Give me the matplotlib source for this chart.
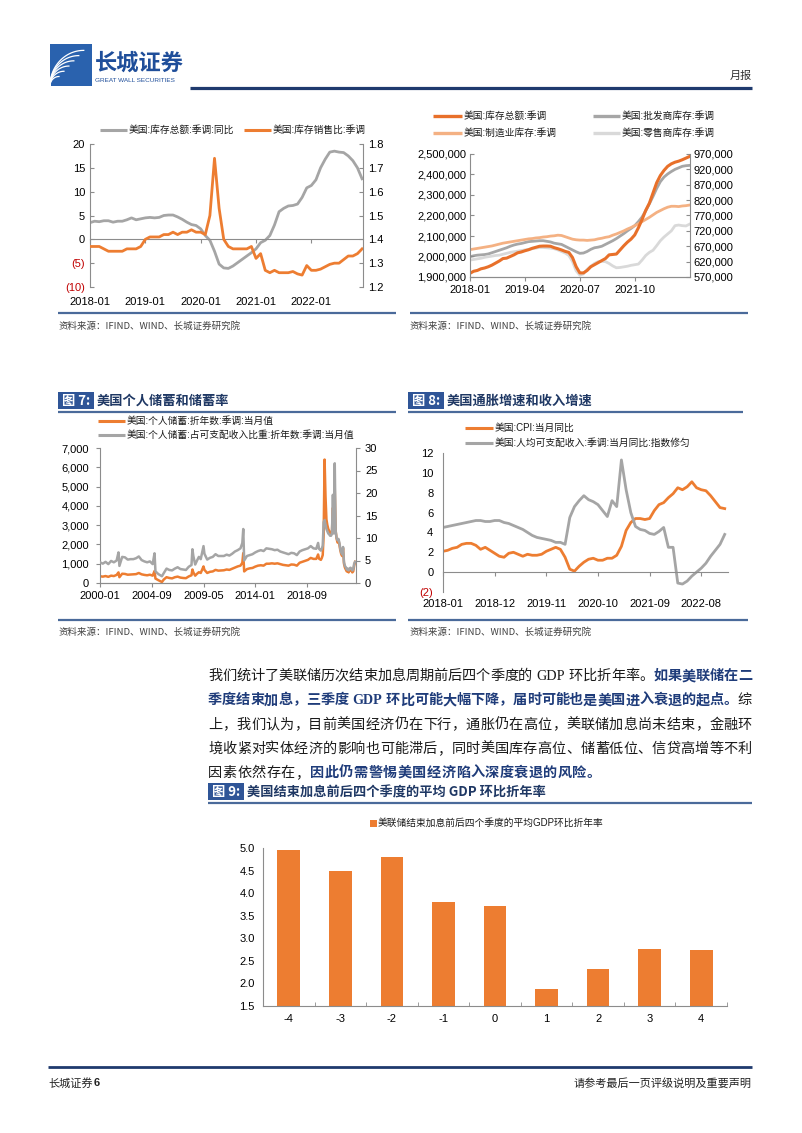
import numpy as np
import pandas as pd
import matplotlib
matplotlib.use('Agg')
import matplotlib.pyplot as plt
from matplotlib.lines import Line2D
from matplotlib.patches import Rectangle

plt.rcParams['font.family'] = ['Liberation Sans', 'Noto Sans CJK SC', 'DejaVu Sans']
plt.rcParams['axes.unicode_minus'] = False

# ======================= DATA =======================
# Chart A: inventory YoY and inventory/sales ratio, monthly 2018-01 .. 2022-12
a_start = '2018-01'
a_ticks = ['2018-01', '2019-01', '2020-01', '2021-01', '2022-01']
inv_yoy = [3.5, 3.8, 3.7, 3.9, 3.9, 3.6, 3.8, 3.8, 4.1, 4.5,
           4.1, 4.3, 4.5, 4.6, 4.5, 4.6, 5.0, 5.1, 5.1, 4.7,
           4.2, 3.6, 3.1, 2.9, 2.2, 0.8, -0.2, -2.5, -5.2, -6.0,
           -6.1, -5.6, -4.9, -4.2, -3.5, -2.8, -2.0, -0.7, -0.2, 0.8,
           3.0, 5.8, 6.5, 7.0, 7.1, 7.4, 8.8, 10.8, 11.3, 12.5,
           15.0, 16.8, 18.3, 18.5, 18.3, 18.2, 17.5, 16.5, 15.0, 12.7]
inv_ratio = [1.37, 1.37, 1.37, 1.36, 1.35, 1.35, 1.35, 1.35, 1.36, 1.36,
             1.36, 1.37, 1.40, 1.41, 1.41, 1.41, 1.42, 1.42, 1.43, 1.42,
             1.43, 1.43, 1.44, 1.43, 1.43, 1.42, 1.50, 1.74, 1.53, 1.40,
             1.37, 1.36, 1.36, 1.36, 1.36, 1.37, 1.32, 1.34, 1.27, 1.26,
             1.27, 1.26, 1.26, 1.26, 1.265, 1.255, 1.25, 1.29, 1.27, 1.27,
             1.275, 1.285, 1.295, 1.30, 1.30, 1.315, 1.33, 1.33, 1.34, 1.36]
a_left_ticks = [-10, -5, 0, 5, 10, 15, 20]
a_left_labels = ['(10)', '(5)', '0', '5', '10', '15', '20']
a_right_ticks = [1.2, 1.3, 1.4, 1.5, 1.6, 1.7, 1.8]
a_right_labels = ['1.2', '1.3', '1.4', '1.5', '1.6', '1.7', '1.8']

# Chart B: inventory levels, monthly 2018-01 .. 2023-01
b_start = '2018-01'
b_ticks = ['2018-01', '2019-04', '2020-07', '2021-10']
inv_total = [1918, 1928, 1932, 1940, 1944, 1950, 1958, 1968, 1978, 1990,
             1992, 2000, 2008, 2018, 2022, 2028, 2033, 2040, 2045, 2050,
             2051, 2051, 2050, 2043, 2038, 2032, 2025, 2020, 1995, 1950,
             1920, 1920, 1932, 1950, 1960, 1970, 1980, 1990, 2008, 2010,
             2012, 2032, 2052, 2070, 2085, 2105, 2140, 2180, 2225, 2260,
             2310, 2360, 2395, 2420, 2440, 2452, 2460, 2465, 2472, 2480,
             2488]  # thousand
inv_wholesale = [636, 639, 641, 642, 643, 645, 649, 653, 657, 661,
                 665, 670, 674, 677, 679, 682, 685, 686, 687, 688,
                 688, 686, 684, 680, 678, 676, 670, 664, 658, 652,
                 647, 648, 653, 660, 665, 667, 670, 676, 682, 688,
                 695, 703, 711, 720, 728, 737, 750, 765, 785, 808,
                 832, 858, 880, 895, 905, 913, 920, 925, 930, 932,
                 933]
inv_mfg = [659, 661, 663, 665, 667, 669, 671, 674, 677, 680,
           682, 684, 686, 688, 690, 692, 694, 695, 697, 698,
           700, 701, 703, 704, 706, 705, 701, 697, 693, 691,
           690, 690, 689, 690, 691, 694, 696, 699, 701, 706,
           710, 715, 720, 726, 731, 737, 743, 750, 757, 764,
           772, 780, 786, 792, 797, 800, 800, 799, 801, 802,
           804]
inv_retail = [625, 627, 629, 631, 634, 636, 638, 640, 641, 644,
              647, 650, 652, 654, 656, 658, 660, 662, 664, 666,
              666, 665, 664, 662, 658, 653, 648, 640, 620, 590,
              576, 580, 595, 605, 614, 620, 621, 620, 614, 606,
              600, 601, 603, 605, 608, 610, 612, 625, 640, 650,
              657, 672, 688, 700, 710, 720, 737, 739, 737, 736,
              742]
b_left_ticks = [1900000, 2000000, 2100000, 2200000, 2300000, 2400000, 2500000]
b_right_ticks = [570000, 620000, 670000, 720000, 770000, 820000, 870000, 920000, 970000]

# Chart 7: personal saving (bn, annualised) and saving rate (%)
sav_dates = ['2000-01', '2000-04', '2000-07', '2000-10',
             '2001-01', '2001-04', '2001-07', '2001-09', '2001-10',
             '2002-01', '2002-04', '2002-07', '2002-10',
             '2003-01', '2003-04', '2003-07', '2003-10',
             '2004-01', '2004-04', '2004-07', '2004-10', '2004-12',
             '2005-01', '2005-04', '2005-08', '2005-10',
             '2006-01', '2006-04', '2006-07', '2006-10',
             '2007-01', '2007-04', '2007-07', '2007-10',
             '2008-01', '2008-04', '2008-05', '2008-06', '2008-08', '2008-10', '2008-12',
             '2009-02', '2009-05', '2009-06', '2009-09', '2009-12',
             '2010-03', '2010-06', '2010-09', '2010-12',
             '2011-03', '2011-06', '2011-09', '2011-12',
             '2012-03', '2012-06', '2012-09', '2012-11', '2012-12',
             '2013-01', '2013-04', '2013-07', '2013-10',
             '2014-01', '2014-04', '2014-07', '2014-10',
             '2015-01', '2015-04', '2015-07', '2015-10',
             '2016-01', '2016-04', '2016-07', '2016-10',
             '2017-01', '2017-04', '2017-07', '2017-10',
             '2018-01', '2018-04', '2018-07', '2018-10',
             '2019-01', '2019-04', '2019-07', '2019-09', '2019-10', '2019-12',
             '2020-01', '2020-02', '2020-03', '2020-04', '2020-05', '2020-06',
             '2020-07', '2020-08', '2020-09', '2020-10', '2020-11', '2020-12',
             '2021-01', '2021-02', '2021-03', '2021-04', '2021-05', '2021-06',
             '2021-07', '2021-08', '2021-09', '2021-10', '2021-11', '2021-12',
             '2022-01', '2022-02', '2022-03', '2022-04', '2022-05', '2022-06',
             '2022-07', '2022-08', '2022-09', '2022-10', '2022-11', '2022-12',
             '2023-01']
sav_level = [350, 330, 360, 320,
             380, 360, 420, 550, 300,
             480, 470, 430, 440,
             450, 460, 520, 450,
             420, 400, 430, 380, 620,
             230, 150, 50, 180,
             300, 260, 240, 300,
             330, 280, 260, 250,
             340, 400, 700, 550, 380, 480, 560,
             520, 860, 680, 520, 580,
             600, 680, 640, 650,
             660, 700, 680, 740,
             800, 860, 900, 1050, 1550,
             600, 720, 760, 780,
             850, 900, 920, 900,
             1000, 1000, 1020, 1000,
             1020, 980, 940, 920,
             900, 960, 950, 900,
             1050, 1100, 1150, 1200,
             1300, 1250, 1250, 1480, 1260, 1200,
             1300, 1450, 2500, 6400, 4500, 3300,
             3000, 2800, 2700, 2600, 2500, 2700,
             3900, 2600, 4900, 2700, 2300, 2100,
             2200, 2000, 1700, 1500, 1400, 1800,
             1000, 800, 700, 600, 650, 550,
             650, 700, 650, 550, 600, 900,
             1100]
sav_rate = [4.6, 4.3, 4.7, 4.2,
            4.9, 4.6, 5.0, 6.8, 3.8,
            5.8, 5.7, 5.2, 5.3,
            5.3, 5.5, 5.9, 5.1,
            4.8, 4.6, 4.8, 4.2, 6.6,
            2.6, 2.0, 1.5, 2.2,
            3.2, 2.9, 2.8, 3.2,
            3.5, 3.1, 3.0, 2.9,
            3.6, 4.0, 7.5, 6.0, 4.1, 5.0, 5.8,
            5.3, 8.2, 6.5, 5.2, 5.6,
            5.8, 6.4, 6.0, 6.0,
            6.0, 6.3, 6.1, 6.5,
            7.0, 7.3, 7.7, 8.9, 12.0,
            5.0, 6.0, 6.2, 6.4,
            6.8, 7.1, 7.3, 7.1,
            7.7, 7.6, 7.5, 7.3,
            7.4, 7.0, 6.8, 6.6,
            6.4, 6.7, 6.6, 6.2,
            7.0, 7.3, 7.5, 7.7,
            8.2, 7.7, 7.6, 8.9, 7.6, 7.2,
            7.6, 8.3, 13.5, 14.0, 13.0, 12.0,
            11.5, 11.0, 10.8, 10.5, 10.5, 11.0,
            19.6, 11.0, 26.6, 11.5, 10.0, 9.5,
            9.8, 9.0, 7.6, 6.8, 6.4, 8.0,
            4.6, 3.8, 3.5, 3.0, 3.2, 2.8,
            3.2, 3.4, 3.2, 2.8, 3.0, 4.3,
            4.7]
c7_start = '2000-01'
c7_ticks = ['2000-01', '2004-09', '2009-05', '2014-01', '2018-09']
c7_left_ticks = [0, 1000, 2000, 3000, 4000, 5000, 6000, 7000]
c7_right_ticks = [0, 5, 10, 15, 20, 25, 30]

# Chart 8: CPI YoY and disposable income per capita YoY, monthly 2018-01 .. 2023-01
c8_start = '2018-01'
c8_ticks = ['2018-01', '2018-12', '2019-11', '2020-10', '2021-09', '2022-08']
cpi_yoy = [2.1, 2.2, 2.4, 2.5, 2.8, 2.9, 2.9, 2.7, 2.3, 2.5, 2.2, 1.9,
           1.6, 1.5, 1.9, 2.0, 1.8, 1.6, 1.8, 1.7, 1.7, 1.8, 2.1, 2.3,
           2.5, 2.3, 1.5, 0.3, 0.1, 0.6, 1.0, 1.3, 1.4, 1.2, 1.2, 1.4,
           1.4, 1.7, 2.6, 4.2, 5.0, 5.4, 5.4, 5.3, 5.4, 6.2, 6.8, 7.0,
           7.5, 7.9, 8.5, 8.3, 8.6, 9.1, 8.5, 8.3, 8.2, 7.7, 7.1, 6.5,
           6.4]
income_yoy = [4.5, 4.6, 4.7, 4.8, 4.9, 5.0, 5.1, 5.2, 5.2, 5.1,
              5.1, 5.2, 5.2, 5.0, 4.9, 4.7, 4.5, 4.3, 4.0, 3.7,
              3.5, 3.4, 3.3, 3.2, 3.0, 3.0, 2.8, 5.5, 6.6, 7.2,
              7.7, 7.3, 7.1, 6.8, 6.2, 5.6, 7.2, 6.6, 11.3, 8.3,
              6.0, 4.6, 4.3, 4.2, 3.9, 3.8, 4.1, 4.5, 2.5, 2.5,
              -1.1, -1.2, -0.9, -0.4, 0.0, 0.4, 0.9, 1.6, 2.2, 2.8,
              3.8]
c8_ticks_y = [-2, 0, 2, 4, 6, 8, 10, 12]
c8_labels_y = ['(2)', '0', '2', '4', '6', '8', '10', '12']

# Chart 9: average GDP QoQ annualised around end of Fed hiking cycles
quarters = ['-4', '-3', '-2', '-1', '0', '1', '2', '3', '4']
gdp_avg = [4.95, 4.48, 4.80, 3.80, 3.71, 1.87, 2.31, 2.76, 2.73]
c9_yticks = [1.5, 2.0, 2.5, 3.0, 3.5, 4.0, 4.5, 5.0]

# ======================= STYLE =======================
W, H = 802, 1133
ORANGE = '#ED7D31'
GRAY = '#A5A5A5'
SPINE = '#8C8C8C'
NAVY = '#1F3864'
BOXBLUE = '#2F5597'
LINEBLUE = '#4A6A9A'
REDNEG = '#C00000'
TXTBLUE = '#1F3C7A'
CJK = ['Noto Sans CJK SC', 'DejaVu Sans']

fig = plt.figure(figsize=(W / 100, H / 100), dpi=100)
fig.patch.set_facecolor('white')
R = fig.canvas.get_renderer()


def fx(x):
    return x / W


def fy(y):
    return 1 - y / H


def add_ax(x0, y0, x1, y1):
    return fig.add_axes([x0 / W, 1 - y1 / H, (x1 - x0) / W, (y1 - y0) / H])


def hline(x0, x1, y, color, lw):
    fig.add_artist(Line2D([fx(x0), fx(x1)], [fy(y), fy(y)], color=color, lw=lw,
                          transform=fig.transFigure, solid_capstyle='butt'))


def legend_item(x0, x1, y, color, lw, label, fs=7):
    hline(x0, x1, y, color, lw)
    fig.text(fx(x1 + 2), fy(y), label, fontsize=fs, va='center', ha='left', color='#1a1a1a')


def style_spines(ax):
    for s in ax.spines.values():
        s.set_color(SPINE)
        s.set_linewidth(0.8)
    ax.tick_params(colors=SPINE, labelcolor='black', labelsize=8, width=0.8)


def month_idx(start, d):
    return (pd.Period(d, 'M') - pd.Period(start, 'M')).n


def color_neg(labels, ticks):
    for lab, t in zip(labels, ticks):
        if t < 0:
            lab.set_color(REDNEG)


def fig_header(x0, y, num, title, xline1):
    fig.add_artist(Rectangle((fx(x0), fy(y + 8)), 36 / W, 17 / H, transform=fig.transFigure,
                             facecolor=BOXBLUE, edgecolor='none'))
    fig.text(fx(x0 + 18), fy(y), '图 %s:' % num, color='white', ha='center', va='center',
             fontsize=9.5, weight='bold', family=CJK)
    fig.text(fx(x0 + 39), fy(y), title, color=NAVY, ha='left', va='center',
             fontsize=9.5, weight='bold', family=['Noto Sans CJK SC', 'Liberation Serif'])
    hline(x0, xline1, y + 11, LINEBLUE, 1.6)


def source(x, y):
    fig.text(fx(x), fy(y), '资料来源：IFIND、WIND、长城证券研究院', fontsize=6.8,
             color='#404040', ha='left', va='center', family=CJK)


# ======================= PAGE HEADER =======================
fig.add_artist(Rectangle((fx(50), fy(86)), 42 / W, 42 / H, transform=fig.transFigure,
                         facecolor='#2A62AE', edgecolor='none'))
for k in range(6):
    tt = np.linspace(0, np.pi / 2, 30)
    rx = 10 + k * 5.5
    xs = 50 + rx * (1 - np.cos(tt)) * 0.9
    ys = 86 - rx * np.sin(tt) * 0.95
    fig.add_artist(Line2D(fx(xs), fy(ys), color='white', lw=0.9, transform=fig.transFigure))
fig.text(fx(95), fy(63), '长城证券', fontsize=16, weight='bold', color='#1F4E9A',
         ha='left', va='center', family=CJK)
fig.text(fx(95), fy(80), 'GREAT WALL SECURITIES', fontsize=4.6, color='#1F4E9A',
         ha='left', va='center')
hline(190, 752, 88, '#1F3A6E', 2.3)
fig.text(fx(752), fy(76), '月报', fontsize=8, color='#333333', ha='right', va='center', family=CJK)

# ======================= CHART A =======================
ax1 = add_ax(90, 144, 363, 287)
xa = np.arange(len(inv_yoy))
ax1.plot(xa, inv_yoy, color=GRAY, lw=2.0)
ax1.set_ylim(-10, 20)
ax1.set_xlim(0, len(inv_yoy) - 0.8)
ax1b = ax1.twinx()
ax1b.plot(xa, inv_ratio, color=ORANGE, lw=2.0)
ax1b.set_ylim(1.2, 1.8)
for a in (ax1, ax1b):
    style_spines(a)
    a.spines['top'].set_visible(False)
ax1.spines['right'].set_visible(False)
ax1b.spines['left'].set_visible(False)
ax1b.spines['bottom'].set_visible(False)
ax1.spines['bottom'].set_position(('data', 0))
ax1.set_yticks(a_left_ticks)
ax1.set_yticklabels(a_left_labels)
color_neg(ax1.get_yticklabels(), a_left_ticks)
ax1.tick_params(axis='y', length=3, direction='in', pad=3.5)
ax1b.set_yticks(a_right_ticks)
ax1b.set_yticklabels(a_right_labels)
ax1b.tick_params(axis='y', length=3, direction='in', pad=3.5)
ax1.set_xticks([month_idx(a_start, t) for t in a_ticks])
ax1.set_xticklabels(a_ticks)
ax1.tick_params(axis='x', length=3, direction='out', pad=38.5)
legend_item(100, 127, 130, GRAY, 2.2, '美国:库存总额:季调:同比')
legend_item(244, 271, 130, ORANGE, 2.2, '美国:库存销售比:季调')

# ======================= CHART B =======================
ax2 = add_ax(470, 154, 690, 277)
xb = np.arange(len(inv_total))
ax2b = ax2.twinx()
ax2b.plot(xb, [v * 1000 for v in inv_wholesale], color='#A6A6A6', lw=2.0)
ax2b.plot(xb, [v * 1000 for v in inv_mfg], color='#F4B183', lw=2.0)
ax2b.plot(xb, [v * 1000 for v in inv_retail], color='#D9D9D9', lw=2.0)
ax2.plot(xb, [v * 1000 for v in inv_total], color='#E8702A', lw=2.2)
ax2.set_zorder(ax2b.get_zorder() + 1)
ax2.patch.set_visible(False)
ax2.set_ylim(1900000, 2500000)
ax2b.set_ylim(570000, 970000)
ax2.set_xlim(0, len(inv_total) - 0.9)
for a in (ax2, ax2b):
    style_spines(a)
    a.spines['top'].set_visible(False)
ax2.spines['right'].set_visible(False)
ax2b.spines['left'].set_visible(False)
ax2.set_yticks(b_left_ticks)
ax2.set_yticklabels(['{:,}'.format(v) for v in b_left_ticks])
ax2.tick_params(axis='y', length=3, direction='in', pad=2.5)
ax2b.set_yticks(b_right_ticks)
ax2b.set_yticklabels(['{:,}'.format(v) for v in b_right_ticks])
ax2b.tick_params(axis='y', length=3, direction='in', pad=2.5)
ax2.set_xticks([month_idx(b_start, t) for t in b_ticks])
ax2.set_xticklabels(b_ticks)
ax2.tick_params(axis='x', length=3, direction='out', pad=2.5)
legend_item(433, 462, 116, '#E8702A', 2.4, '美国:库存总额:季调')
legend_item(593, 620, 116, '#A6A6A6', 2.4, '美国:批发商库存:季调')
legend_item(433, 462, 133, '#F4B183', 2.4, '美国:制造业库存:季调')
legend_item(593, 620, 133, '#D9D9D9', 2.4, '美国:零售商库存:季调')

# sources for top charts
hline(58, 396, 313, LINEBLUE, 1.6)
hline(410, 748, 313, LINEBLUE, 1.6)
source(58, 326)
source(410, 326)

# ======================= CHART 7 =======================
fig_header(58, 401, '7', '美国个人储蓄和储蓄率', 396)
ax7 = add_ax(100, 448, 356, 583)
x7 = [month_idx(c7_start, d) for d in sav_dates]
ax7.plot(x7, sav_level, color=ORANGE, lw=1.8)
ax7.set_ylim(0, 7000)
ax7.set_xlim(0, 277)
ax7b = ax7.twinx()
ax7b.plot(x7, sav_rate, color=GRAY, lw=1.8)
ax7b.set_ylim(0, 30)
for a in (ax7, ax7b):
    style_spines(a)
    a.spines['top'].set_visible(False)
ax7.spines['right'].set_visible(False)
ax7b.spines['left'].set_visible(False)
ax7.set_yticks(c7_left_ticks)
ax7.set_yticklabels(['{:,}'.format(v) for v in c7_left_ticks])
ax7.tick_params(axis='y', length=3, direction='out', pad=5)
ax7b.set_yticks(c7_right_ticks)
ax7b.set_yticklabels([str(v) for v in c7_right_ticks])
ax7b.tick_params(axis='y', length=3, direction='out', pad=3.5)
ax7.set_xticks([month_idx(c7_start, t) for t in c7_ticks])
ax7.set_xticklabels(c7_ticks)
ax7.tick_params(axis='x', length=3, direction='out', pad=3)
legend_item(98, 125, 421, ORANGE, 2.2, '美国:个人储蓄:折年数:季调:当月值')
legend_item(98, 125, 435, GRAY, 2.2, '美国:个人储蓄:占可支配收入比重:折年数:季调:当月值')
hline(58, 396, 620, LINEBLUE, 1.6)
source(58, 632)

# ======================= CHART 8 =======================
fig_header(408, 401, '8', '美国通胀增速和收入增速', 743)
ax8 = add_ax(443, 453, 728, 592)
x8 = np.arange(len(cpi_yoy))
ax8.plot(x8, cpi_yoy, color=ORANGE, lw=2.0)
ax8.plot(x8, income_yoy, color=GRAY, lw=2.0)
ax8.set_ylim(-2, 12)
ax8.set_xlim(0, 60.7)
style_spines(ax8)
ax8.spines['top'].set_visible(False)
ax8.spines['right'].set_visible(False)
ax8.spines['bottom'].set_position(('data', 0))
ax8.set_yticks(c8_ticks_y)
ax8.set_yticklabels(c8_labels_y)
color_neg(ax8.get_yticklabels(), c8_ticks_y)
ax8.tick_params(axis='y', length=0, pad=7)
ax8.set_xticks([month_idx(c8_start, t) for t in c8_ticks])
ax8.set_xticklabels(c8_ticks)
ax8.tick_params(axis='x', length=3, direction='out', pad=16.5)
legend_item(465, 493, 428, ORANGE, 2.2, '美国:CPI:当月同比')
legend_item(465, 493, 443, GRAY, 2.2, '美国:人均可支配收入:季调:当月同比:指数修匀')
hline(408, 748, 620, LINEBLUE, 1.6)
source(410, 632)

# ======================= PARAGRAPH =======================
def para_line(segments, y, x0=208, x1=752, justify=True, fs=10.2):
    em = fs * 100 / 72
    toks = []
    for text, bold in segments:
        i = 0
        while i < len(text):
            ch = text[i]
            if ch == ' ':
                toks.append((None, bold, 'space'))
                i += 1
            elif ch.isascii():
                j = i
                while j < len(text) and text[j].isascii() and text[j] != ' ':
                    j += 1
                toks.append((text[i:j], bold, 'latin'))
                i = j
            else:
                toks.append((ch, bold, 'cjk'))
                i += 1
    items = []
    for t, bold, kind in toks:
        if kind == 'space':
            items.append((None, em * 0.28))
            continue
        color = TXTBLUE if bold else '#1a1a1a'
        fam = ['Liberation Serif'] if kind == 'latin' else CJK
        a = fig.text(0, fy(y + em * 0.36), t, fontsize=fs, family=fam, color=color,
                     weight='bold' if bold else 'normal', ha='left', va='baseline')
        if kind == 'latin':
            w = a.get_window_extent(renderer=R).width
        else:
            w = em
        items.append((a, w))
    total = sum(w for _, w in items)
    gap = (x1 - x0 - total) / (len(items) - 1) if justify else 0.4
    x = x0
    for a, w in items:
        if a is not None:
            a.set_x(fx(x))
        x += w + gap


para = [
    [('我们统计了美联储历次结束加息周期前后四个季度的 GDP 环比折年率。', False), ('如果美联储在二', True)],
    [('季度结束加息，三季度 GDP 环比可能大幅下降，届时可能也是美国进入衰退的起点。', True), ('综', False)],
    [('上，我们认为，目前美国经济仍在下行，通胀仍在高位，美联储加息尚未结束，金融环', False)],
    [('境收紧对实体经济的影响也可能滞后，同时美国库存高位、储蓄低位、信贷高增等不利', False)],
    [('因素依然存在，', False), ('因此仍需警惕美国经济陷入深度衰退的风险。', True)],
]
for i, segs in enumerate(para):
    para_line(segs, 675 + 24.2 * i, justify=(i < len(para) - 1))

# ======================= CHART 9 =======================
fig_header(208, 792, '9', '美国结束加息前后四个季度的平均 GDP 环比折年率', 752)
ax9 = add_ax(263, 848, 727, 1006)
x9 = np.arange(len(quarters))
ax9.bar(x9, gdp_avg, width=0.44, color=ORANGE, zorder=2)
ax9.set_ylim(1.5, 5.0)
ax9.set_xlim(-0.5, len(quarters) - 0.5)
style_spines(ax9)
ax9.spines['top'].set_visible(False)
ax9.spines['right'].set_visible(False)
ax9.set_yticks(c9_yticks)
ax9.set_yticklabels(['%.1f' % v for v in c9_yticks])
ax9.tick_params(axis='y', length=0, pad=6)
ax9.set_xticks(x9)
ax9.set_xticklabels(quarters)
ax9.set_xticks(np.arange(len(quarters) + 1) - 0.5, minor=True)
ax9.tick_params(axis='x', which='major', length=0, pad=5.5)
ax9.tick_params(axis='x', which='minor', length=3, direction='in', color=SPINE)
fig.add_artist(Rectangle((fx(370), fy(826.5)), 7 / W, 7 / H, transform=fig.transFigure,
                         facecolor=ORANGE, edgecolor='none'))
fig.text(fx(378), fy(823), '美联储结束加息前后四个季度的平均GDP环比折年率', fontsize=7,
         ha='left', va='center', color='#1a1a1a')

# ======================= FOOTER =======================
hline(48, 752, 1067, '#1F3A6E', 2.0)
ft = fig.text(fx(48), fy(1083), '长城证券', fontsize=8, ha='left', va='center',
              color='#222222', family=CJK)
fbb = ft.get_window_extent(renderer=R)
fig.text(fx(fbb.x1 + 1), fy(1083), '6', fontsize=8, ha='left', va='center',
         color='#222222', weight='bold')
fig.text(fx(752), fy(1083), '请参考最后一页评级说明及重要声明', fontsize=8, ha='right', va='center',
         color='#222222', family=CJK)

fig.savefig('out.png', dpi=100, facecolor='white')
